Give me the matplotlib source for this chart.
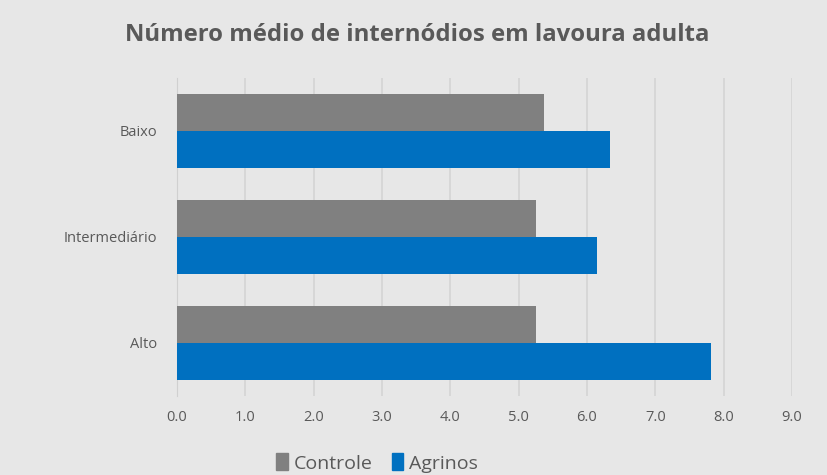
import matplotlib.pyplot as plt
import numpy as np
from matplotlib.patches import Patch

categories = ["Baixo", "Intermediário", "Alto"]
controle = [5.37, 5.25, 5.25]
agrinos = [6.33, 6.14, 7.82]
xticks = [0, 1, 2, 3, 4, 5, 6, 7, 8, 9]

bg = "#E7E7E7"
plt.rcParams['font.family'] = ['Open Sans', 'DejaVu Sans']

fig = plt.figure(figsize=(8.28, 4.75), dpi=100, facecolor=bg)
ax = fig.add_axes([177/828, 1-396/475, (792-177)/828, (396-78)/475], facecolor=bg)

y = np.arange(len(categories))
h = 0.352
ax.barh(y - h/2, controle, height=h, color="#808080", label="Controle", zorder=3)
ax.barh(y + h/2, agrinos, height=h, color="#0070C0", label="Agrinos", zorder=3)

ax.set_xlim(0, 9)
ax.set_ylim(2.5, -0.5)
ax.set_xticks(xticks)
ax.set_xticklabels([f"{v:.1f}" for v in xticks], fontsize=10.5, color="#595959")
ax.set_yticks(y)
ax.set_yticklabels(categories, fontsize=10.5, color="#595959")
ax.tick_params(length=0, pad=14)
ax.tick_params(axis='x', pad=10)
ax.grid(axis='x', color="#D4D4D4", linewidth=1.2, zorder=0)
for s in ['top', 'right', 'bottom']:
    ax.spines[s].set_visible(False)
ax.spines['left'].set_color("#D0D0D0")

fig.text(0.5 + 3/828, 1-35/475, "Número médio de internódios em lavoura adulta", ha='center', va='center',
         fontsize=17.2, fontweight='bold', color="#595959")

handles = [Patch(color="#808080"), Patch(color="#0070C0")]
leg = fig.legend(handles, ["Controle", "Agrinos"], loc='center', bbox_to_anchor=(377/828, 1-463/475),
                 ncol=2, frameon=False, fontsize=14, handlelength=0.6, handleheight=0.95,
                 handletextpad=0.3, columnspacing=1.0)
for t in leg.get_texts():
    t.set_color("#595959")

fig.savefig("out.png", dpi=100, facecolor=bg)
